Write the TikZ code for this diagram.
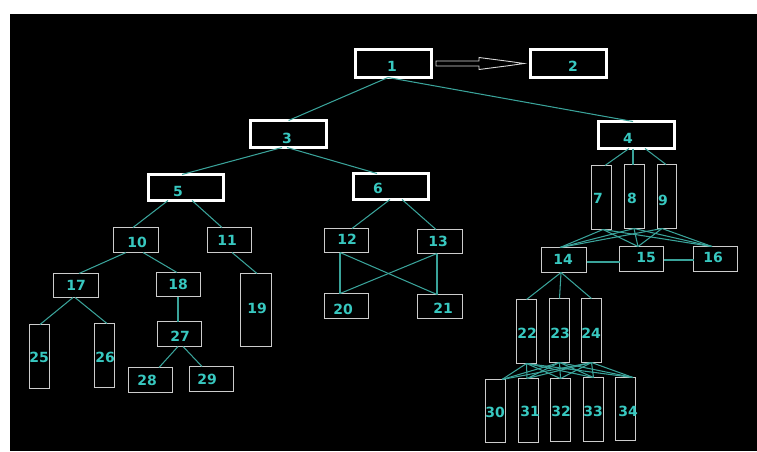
\documentclass[tikz,border=0pt]{standalone}
\usepackage{fontspec}
\setmainfont{DejaVu Sans}
\usetikzlibrary{calc}
\definecolor{edgec}{HTML}{3AA39A}
\definecolor{lblc}{HTML}{38C8C0}
\definecolor{thinc}{HTML}{CCCCCC}
\begin{document}
\begin{tikzpicture}[x=1pt,y=-1pt,
  tbox/.style={draw=white, line width=3pt, inner sep=0pt, outer sep=0pt},
  sbox/.style={draw=thinc, line width=1.2pt, inner sep=0pt, outer sep=0pt},
  lbl/.style={text=lblc, font=\fontsize{14}{14}\selectfont\bfseries, inner sep=0pt},
  conn/.style={draw=edgec, line width=1.05pt}]
\useasboundingbox (0,0) rectangle (757,451);
\fill[white] (0,0) rectangle (757,451);
\fill[black] (10,14) rectangle (757,451);
% thick boxes
\node[tbox, minimum width=76pt, minimum height=28pt] (n1) at (393.5,63.5) {};
\node[tbox, minimum width=76pt, minimum height=28pt] (n2) at (568.5,63.5) {};
\node[tbox, minimum width=76pt, minimum height=27pt] (n3) at (288.5,134) {};
\node[tbox, minimum width=76pt, minimum height=27pt] (n4) at (636.5,135) {};
\node[tbox, minimum width=75pt, minimum height=26pt] (n5) at (186,187.5) {};
\node[tbox, minimum width=75pt, minimum height=26pt] (n6) at (391,186.5) {};
% thin boxes
\node[sbox, minimum width=45pt, minimum height=25pt] (n10) at (136,240) {};
\node[sbox, minimum width=44pt, minimum height=25pt] (n11) at (229.5,240) {};
\node[sbox, minimum width=44pt, minimum height=24pt] (n12) at (346.5,240.5) {};
\node[sbox, minimum width=45pt, minimum height=24pt] (n13) at (440,241.5) {};
\node[sbox, minimum width=45pt, minimum height=24pt] (n17) at (76,285.5) {};
\node[sbox, minimum width=44pt, minimum height=24pt] (n18) at (178.5,284.5) {};
\node[sbox, minimum width=31pt, minimum height=73pt] (n19) at (256,310) {};
\node[sbox, minimum width=44pt, minimum height=25pt] (n20) at (346.5,306) {};
\node[sbox, minimum width=45pt, minimum height=24pt] (n21) at (440,306.5) {};
\node[sbox, minimum width=20pt, minimum height=64pt] (n25) at (39.5,356.5) {};
\node[sbox, minimum width=20pt, minimum height=64pt] (n26) at (104.5,355.5) {};
\node[sbox, minimum width=44pt, minimum height=25pt] (n27) at (179.5,334) {};
\node[sbox, minimum width=44pt, minimum height=25pt] (n28) at (150.5,380) {};
\node[sbox, minimum width=44pt, minimum height=25pt] (n29) at (211.5,379) {};
\node[sbox, minimum width=20pt, minimum height=64pt] (n7) at (601.5,197.5) {};
\node[sbox, minimum width=20pt, minimum height=64pt] (n8) at (634.5,196.5) {};
\node[sbox, minimum width=19pt, minimum height=64pt] (n9) at (667,196.5) {};
\node[sbox, minimum width=45pt, minimum height=25pt] (n14) at (564,260) {};
\node[sbox, minimum width=44pt, minimum height=25pt] (n15) at (641.5,259) {};
\node[sbox, minimum width=44pt, minimum height=25pt] (n16) at (715.5,259) {};
\node[sbox, minimum width=20pt, minimum height=64pt] (n22) at (526.5,331.5) {};
\node[sbox, minimum width=20pt, minimum height=64pt] (n23) at (559.5,330.5) {};
\node[sbox, minimum width=20pt, minimum height=64pt] (n24) at (591.5,330.5) {};
\node[sbox, minimum width=20pt, minimum height=63pt] (n30) at (495.5,411) {};
\node[sbox, minimum width=20pt, minimum height=64pt] (n31) at (528.5,410.5) {};
\node[sbox, minimum width=20pt, minimum height=63pt] (n32) at (560.5,410) {};
\node[sbox, minimum width=20pt, minimum height=64pt] (n33) at (593.5,409.5) {};
\node[sbox, minimum width=20pt, minimum height=63pt] (n34) at (625.5,409) {};
% connectors
\draw[conn] ([xshift=-5.5pt]n1.south) -- (n3.north);
\draw[conn] ([xshift=-5.5pt]n1.south) -- ([xshift=-3.5pt]n4.north);
\draw[conn] ([xshift=-6.5pt]n3.south) -- ([xshift=-4pt]n5.north);
\draw[conn] ([xshift=-1.5pt]n3.south) -- ([xshift=-14pt]n6.north);
\draw[conn] ([xshift=-18pt]n5.south) -- ([xshift=-3pt]n10.north);
\draw[conn] ([xshift=6pt]n5.south) -- ([xshift=-7.5pt]n11.north);
\draw[conn] ([xshift=-1pt]n6.south) -- ([xshift=5.5pt]n12.north);
\draw[conn] ([xshift=11pt]n6.south) -- ([xshift=-4pt]n13.north);
\draw[conn] ([xshift=-10pt]n10.south) -- ([xshift=3pt]n17.north);
\draw[conn] ([xshift=7pt]n10.south) -- ([xshift=-1.5pt]n18.north);
\draw[conn] ([xshift=2.5pt]n11.south) -- ([xshift=1pt]n19.north);
\draw[conn] ([xshift=-3pt]n17.south) -- ([xshift=0.5pt]n25.north);
\draw[conn] ([xshift=-1pt]n17.south) -- ([xshift=2.5pt]n26.north);
\draw[conn] ([xshift=-0.5pt]n18.south) -- ([xshift=-1.5pt]n27.north);
\draw[conn] ([xshift=-1.5pt]n27.south) -- ([xshift=8.5pt]n28.north);
\draw[conn] ([xshift=3.5pt]n27.south) -- ([xshift=-9.5pt]n29.north);
\draw[conn] ([xshift=-6.5pt]n12.south) -- ([xshift=-6.5pt]n20.north);
\draw[conn] ([xshift=-6.5pt]n12.south) -- ([xshift=-3pt]n21.north);
\draw[conn] ([xshift=-3pt]n13.south) -- ([xshift=-6.5pt]n20.north);
\draw[conn] ([xshift=-3pt]n13.south) -- ([xshift=-3pt]n21.north);
\draw[conn] ([xshift=-7.5pt]n4.south) -- ([xshift=3.5pt]n7.north);
\draw[conn] ([xshift=-3.5pt]n4.south) -- ([xshift=-1.5pt]n8.north);
\draw[conn] ([xshift=8.5pt]n4.south) -- ([xshift=-1pt]n9.north);
\foreach \a/\ax in {7/1.5,8/-0.5,9/-5}
  \foreach \b/\bx in {14/-4,15/-3.5,16/-3.5}
    \draw[conn] ([xshift=\ax pt]n\a.south) -- ([xshift=\bx pt]n\b.north);
\draw[conn] ([yshift=-2pt]n14.east) -- ([yshift=-2pt]n14.east -| n15.west);
\draw[conn] ([yshift=-1pt]n15.east) -- ([yshift=-1pt]n15.east -| n16.west);
\draw[conn] ([xshift=-3pt]n14.south) -- (n22.north);
\draw[conn] ([xshift=-3pt]n14.south) -- (n23.north);
\draw[conn] ([xshift=-3pt]n14.south) -- (n24.north);
\foreach \a in {22,23,24}
  \foreach \b/\bx in {30/6.5,31/-1.5,32/0,33/0,34/7.5}
    \draw[conn] (n\a.south) -- ([xshift=\bx pt]n\b.north);
% hollow arrow 1 -> 2
\coordinate (a1) at ([xshift=4.5pt]n1.east);
\coordinate (a2) at ([xshift=-6.5pt]n2.west);
\draw[draw={rgb,255:red,215;green,215;blue,215}, line width=0.9pt, line join=miter]
  (a1) ++(0,-2.5) -- ++(43,0) -- ++(0,-3.5) -- ($(a2)+(-14,-2)$) -- (a2)
  -- ($(a2)+(-14,2)$) -- ($(a1)+(43,6)$) -- ++(0,-3.5) -- ($(a1)+(0,2.5)$) -- cycle;
% labels
\node[lbl] (t1) at (392,66) {1};
\node[lbl] (t2) at (573,66) {2};
\node[lbl] (t3) at (287,138) {3};
\node[lbl] (t4) at (628,138) {4};
\node[lbl] (t5) at (178,191) {5};
\node[lbl] (t6) at (378,188) {6};
\node[lbl] (t7) at (598,198) {7};
\node[lbl] (t8) at (632,198) {8};
\node[lbl] (t9) at (663,200) {9};
\node[lbl] (t10) at (137,242) {10};
\node[lbl] (t11) at (227,240) {11};
\node[lbl] (t12) at (347,239) {12};
\node[lbl] (t13) at (438,241) {13};
\node[lbl] (t14) at (563,259) {14};
\node[lbl] (t15) at (646,257) {15};
\node[lbl] (t16) at (713,257) {16};
\node[lbl] (t17) at (76,285) {17};
\node[lbl] (t18) at (178,284) {18};
\node[lbl] (t19) at (257,308) {19};
\node[lbl] (t20) at (343,309) {20};
\node[lbl] (t21) at (443,308) {21};
\node[lbl] (t22) at (527,333) {22};
\node[lbl] (t23) at (560,333) {23};
\node[lbl] (t24) at (591,333) {24};
\node[lbl] (t25) at (39,357) {25};
\node[lbl] (t26) at (105,357) {26};
\node[lbl] (t27) at (180,336) {27};
\node[lbl] (t28) at (147,380) {28};
\node[lbl] (t29) at (207,379) {29};
\node[lbl] (t30) at (495,412) {30};
\node[lbl] (t31) at (530,411) {31};
\node[lbl] (t32) at (561,411) {32};
\node[lbl] (t33) at (593,411) {33};
\node[lbl] (t34) at (628,411) {34};
\end{tikzpicture}
\end{document}
